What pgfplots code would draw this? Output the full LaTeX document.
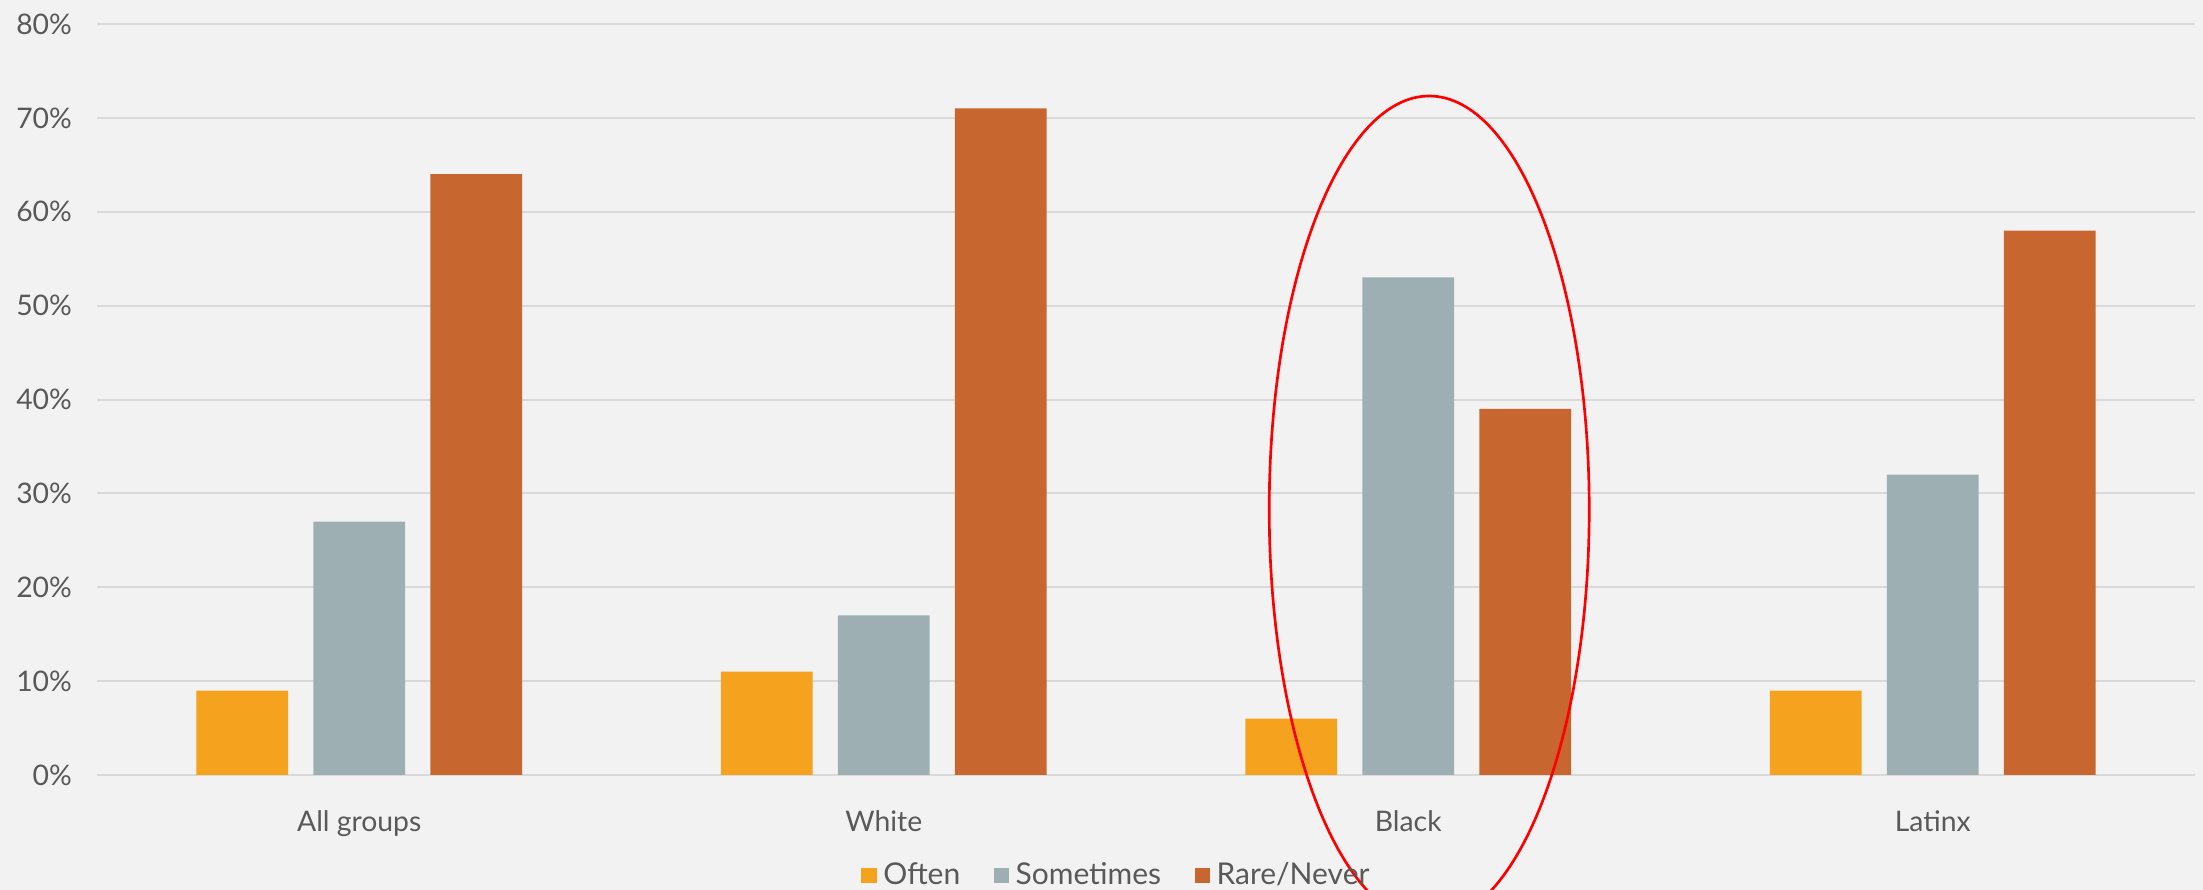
\documentclass[border=0pt]{standalone}
\usepackage{fontspec}
\setmainfont{Lato}
\usepackage{pgfplots}
\pgfplotsset{compat=1.18}
\definecolor{bg}{HTML}{F2F2F2}
\definecolor{gridc}{HTML}{D9D9D9}
\definecolor{txt}{HTML}{595959}
\definecolor{often}{HTML}{F5A31F}
\definecolor{some}{HTML}{9EAFB4}
\definecolor{rare}{HTML}{C8662F}
\begin{document}
\begin{tikzpicture}
\clip (0,0) rectangle (660.9pt,267pt);
\fill[bg] (0,0) rectangle (660.9pt,267pt);
\begin{axis}[
  at={(29.1pt,34.5pt)}, anchor=south west,
  scale only axis, width=629.4pt, height=225.3pt,
  xmin=-0.5, xmax=3.5, ymin=0, ymax=80,
  axis line style={draw=none},
  major tick style={draw=none},
  ytick={0,10,...,80},
  yticklabel={\pgfmathprintnumber{\tick}\%},
  ymajorgrids, grid style={gridc, line width=0.6pt},
  xtick={0,1,2,3},
  xticklabels={All groups, White, Black, Latinx},
  /pgf/number format/assume math mode=true,
  tick label style={font=\fontsize{8.5}{10}\selectfont, text=txt},
  yticklabel style={xshift=-4pt},
  xticklabel style={yshift=-3pt},
  ybar, bar width=0.175,
  clip=false,
  legend style={at={(0.487,-0.134)}, anchor=center, legend columns=3, draw=none, fill=none,
    font=\fontsize{9}{10}\selectfont, text=txt,
    /tikz/every even column/.append style={column sep=8pt}},
  legend image code/.code={\fill[#1] (0pt,-2.3pt) rectangle (4.6pt,2.3pt);},
]
\addplot[fill=often, draw=none, bar shift=-0.223] coordinates {(0,9) (1,11) (2,6) (3,9)};
\addplot[fill=some, draw=none, bar shift=0] coordinates {(0,27) (1,17) (2,53) (3,32)};
\addplot[fill=rare, draw=none, bar shift=0.223] coordinates {(0,64) (1,71) (2,39) (3,58)};
\legend{Often, Sometimes, Rare/Never}
\draw[red, line width=0.8pt] (axis cs:2.04,28.3) ellipse [x radius=48pt, y radius=124pt];
\end{axis}
\end{tikzpicture}
\end{document}
